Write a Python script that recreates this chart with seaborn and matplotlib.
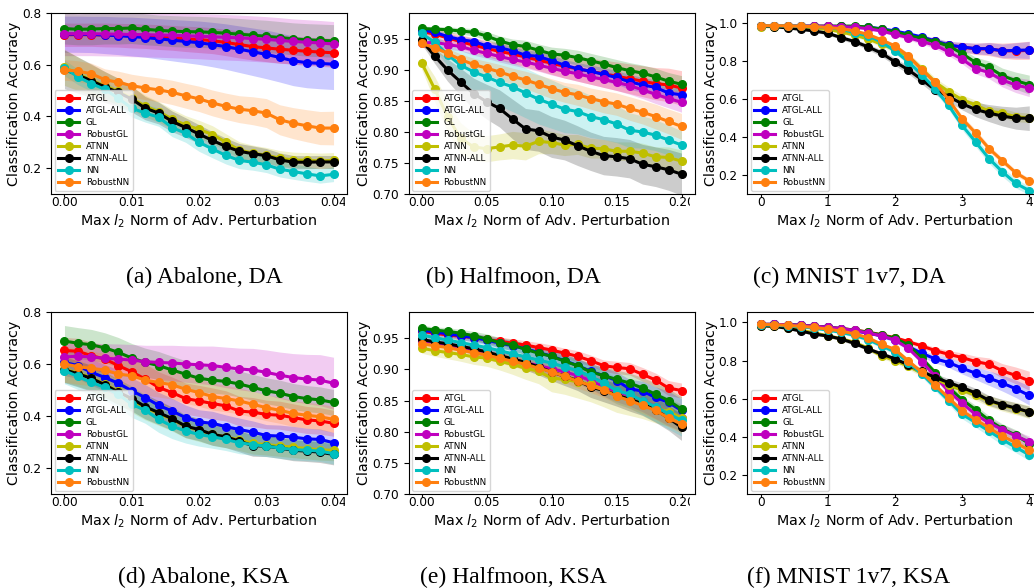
import matplotlib
matplotlib.use("Agg")
import matplotlib.pyplot as plt
import pandas as pd
import seaborn as sns
from matplotlib.transforms import Bbox, TransformedBbox

methods = ['ATGL', 'ATGL-ALL', 'GL', 'RobustGL', 'ATNN', 'ATNN-ALL', 'NN', 'RobustNN']
colors = ['r', 'b', 'g', 'm', 'y', 'k', 'c', 'C1']

eps_abalone = [0.000, 0.002, 0.004, 0.006, 0.008, 0.010, 0.012, 0.014, 0.016, 0.018, 0.020,
               0.022, 0.024, 0.026, 0.028, 0.030, 0.032, 0.034, 0.036, 0.038, 0.040]
eps_halfmoon = [0.00, 0.01, 0.02, 0.03, 0.04, 0.05, 0.06, 0.07, 0.08, 0.09, 0.10,
                0.11, 0.12, 0.13, 0.14, 0.15, 0.16, 0.17, 0.18, 0.19, 0.20]
eps_mnist = [0.0, 0.2, 0.4, 0.6, 0.8, 1.0, 1.2, 1.4, 1.6, 1.8, 2.0,
             2.2, 2.4, 2.6, 2.8, 3.0, 3.2, 3.4, 3.6, 3.8, 4.0]

# ---- (a) Abalone, DA ----
ab_da_atgl = [0.716, 0.716, 0.716, 0.715, 0.714, 0.712, 0.710, 0.707, 0.704, 0.700, 0.697, 0.693, 0.686, 0.678, 0.670, 0.665, 0.660, 0.656, 0.652, 0.649, 0.646]
ab_da_atgl_all = [0.718, 0.718, 0.717, 0.715, 0.712, 0.709, 0.705, 0.700, 0.695, 0.690, 0.685, 0.678, 0.670, 0.660, 0.650, 0.640, 0.628, 0.615, 0.608, 0.605, 0.602]
ab_da_gl = [0.740, 0.737, 0.738, 0.740, 0.740, 0.742, 0.737, 0.733, 0.730, 0.728, 0.727, 0.725, 0.722, 0.718, 0.714, 0.710, 0.705, 0.700, 0.696, 0.694, 0.692]
ab_da_robustgl = [0.720, 0.720, 0.720, 0.719, 0.718, 0.717, 0.716, 0.715, 0.714, 0.712, 0.710, 0.708, 0.706, 0.704, 0.701, 0.698, 0.694, 0.690, 0.687, 0.684, 0.680]
ab_da_atnn = [0.590, 0.565, 0.540, 0.518, 0.497, 0.470, 0.440, 0.418, 0.390, 0.367, 0.350, 0.330, 0.300, 0.270, 0.258, 0.250, 0.238, 0.232, 0.230, 0.228, 0.230]
ab_da_atnn_all = [0.582, 0.560, 0.538, 0.514, 0.493, 0.467, 0.432, 0.413, 0.381, 0.357, 0.332, 0.307, 0.284, 0.265, 0.256, 0.248, 0.232, 0.223, 0.223, 0.224, 0.224]
ab_da_nn = [0.588, 0.553, 0.527, 0.505, 0.470, 0.432, 0.413, 0.397, 0.357, 0.335, 0.300, 0.274, 0.249, 0.230, 0.223, 0.213, 0.196, 0.187, 0.178, 0.170, 0.176]
ab_da_robustnn = [0.580, 0.575, 0.565, 0.542, 0.532, 0.519, 0.510, 0.503, 0.493, 0.480, 0.468, 0.452, 0.439, 0.428, 0.422, 0.413, 0.387, 0.374, 0.364, 0.355, 0.355]
ab_da_atgl_sd = [0.045, 0.045, 0.045, 0.046, 0.046, 0.047, 0.047, 0.048, 0.048, 0.049, 0.050, 0.050, 0.051, 0.052, 0.052, 0.053, 0.054, 0.054, 0.055, 0.055, 0.056]
ab_da_atgl_all_sd = [0.070, 0.070, 0.070, 0.072, 0.073, 0.075, 0.076, 0.078, 0.080, 0.082, 0.084, 0.086, 0.088, 0.090, 0.092, 0.094, 0.095, 0.096, 0.097, 0.098, 0.098]
ab_da_gl_sd = [0.060, 0.060, 0.061, 0.060, 0.060, 0.060, 0.060, 0.059, 0.060, 0.060, 0.060, 0.060, 0.060, 0.061, 0.061, 0.062, 0.062, 0.062, 0.063, 0.063, 0.063]
ab_da_robustgl_sd = [0.085, 0.085, 0.085, 0.085, 0.085, 0.086, 0.086, 0.086, 0.087, 0.087, 0.087, 0.088, 0.088, 0.088, 0.088, 0.088, 0.088, 0.087, 0.087, 0.087, 0.087]
ab_da_atnn_sd = [0.070, 0.065, 0.060, 0.055, 0.050, 0.045, 0.042, 0.040, 0.038, 0.036, 0.035, 0.034, 0.033, 0.032, 0.031, 0.030, 0.030, 0.030, 0.030, 0.030, 0.030]
ab_da_atnn_all_sd = [0.075, 0.070, 0.065, 0.060, 0.055, 0.050, 0.045, 0.042, 0.040, 0.038, 0.036, 0.034, 0.032, 0.030, 0.030, 0.028, 0.027, 0.026, 0.025, 0.025, 0.025]
ab_da_nn_sd = [0.030, 0.030, 0.030, 0.032, 0.033, 0.034, 0.035, 0.035, 0.035, 0.035, 0.035, 0.034, 0.033, 0.032, 0.031, 0.030, 0.030, 0.030, 0.029, 0.028, 0.028]
ab_da_robustnn_sd = [0.040, 0.040, 0.041, 0.042, 0.043, 0.044, 0.045, 0.046, 0.047, 0.048, 0.049, 0.050, 0.051, 0.052, 0.054, 0.056, 0.058, 0.060, 0.062, 0.064, 0.065]

# ---- (b) Halfmoon, DA ----
hm_da_atgl = [0.962, 0.958, 0.952, 0.946, 0.940, 0.935, 0.930, 0.926, 0.921, 0.916, 0.911, 0.906, 0.902, 0.898, 0.894, 0.890, 0.886, 0.882, 0.878, 0.876, 0.871]
hm_da_atgl_all = [0.965, 0.961, 0.954, 0.949, 0.946, 0.939, 0.936, 0.931, 0.924, 0.922, 0.915, 0.908, 0.902, 0.898, 0.893, 0.888, 0.881, 0.876, 0.872, 0.863, 0.860]
hm_da_gl = [0.967, 0.966, 0.965, 0.963, 0.961, 0.955, 0.947, 0.941, 0.938, 0.932, 0.926, 0.924, 0.920, 0.915, 0.910, 0.904, 0.899, 0.895, 0.889, 0.882, 0.877]
hm_da_robustgl = [0.943, 0.945, 0.941, 0.938, 0.932, 0.927, 0.922, 0.917, 0.913, 0.908, 0.903, 0.898, 0.894, 0.889, 0.885, 0.880, 0.875, 0.868, 0.861, 0.854, 0.848]
hm_da_atnn = [0.912, 0.870, 0.825, 0.790, 0.776, 0.773, 0.776, 0.779, 0.777, 0.785, 0.783, 0.779, 0.780, 0.774, 0.773, 0.769, 0.769, 0.766, 0.760, 0.759, 0.753]
hm_da_atnn_all = [0.948, 0.923, 0.900, 0.881, 0.862, 0.849, 0.838, 0.821, 0.805, 0.802, 0.792, 0.787, 0.778, 0.769, 0.762, 0.760, 0.757, 0.748, 0.744, 0.739, 0.732]
hm_da_nn = [0.959, 0.945, 0.925, 0.908, 0.897, 0.889, 0.880, 0.873, 0.863, 0.853, 0.845, 0.837, 0.833, 0.825, 0.820, 0.813, 0.803, 0.800, 0.795, 0.787, 0.779]
hm_da_robustnn = [0.943, 0.936, 0.927, 0.917, 0.909, 0.903, 0.897, 0.890, 0.884, 0.877, 0.870, 0.864, 0.860, 0.854, 0.849, 0.845, 0.838, 0.832, 0.825, 0.817, 0.809]
hm_da_atgl_sd = [0.008, 0.009, 0.010, 0.011, 0.012, 0.013, 0.014, 0.015, 0.016, 0.017, 0.018, 0.019, 0.020, 0.021, 0.022, 0.023, 0.024, 0.025, 0.026, 0.027, 0.028]
hm_da_atgl_all_sd = [0.004, 0.004, 0.005, 0.005, 0.006, 0.006, 0.007, 0.007, 0.008, 0.008, 0.009, 0.009, 0.010, 0.010, 0.011, 0.011, 0.012, 0.012, 0.012, 0.013, 0.013]
hm_da_gl_sd = [0.004, 0.004, 0.005, 0.005, 0.006, 0.007, 0.008, 0.009, 0.010, 0.010, 0.011, 0.011, 0.012, 0.012, 0.012, 0.013, 0.013, 0.013, 0.014, 0.014, 0.014]
hm_da_robustgl_sd = [0.006, 0.006, 0.007, 0.007, 0.008, 0.008, 0.009, 0.009, 0.010, 0.010, 0.011, 0.011, 0.012, 0.012, 0.013, 0.013, 0.014, 0.014, 0.015, 0.015, 0.016]
hm_da_atnn_sd = [0.010, 0.020, 0.025, 0.025, 0.022, 0.021, 0.021, 0.022, 0.022, 0.020, 0.018, 0.017, 0.016, 0.016, 0.015, 0.015, 0.015, 0.016, 0.016, 0.017, 0.018]
hm_da_atnn_all_sd = [0.006, 0.012, 0.018, 0.022, 0.025, 0.028, 0.030, 0.032, 0.033, 0.033, 0.033, 0.032, 0.032, 0.031, 0.031, 0.031, 0.031, 0.032, 0.032, 0.033, 0.034]
hm_da_nn_sd = [0.006, 0.012, 0.018, 0.024, 0.030, 0.035, 0.038, 0.040, 0.040, 0.040, 0.039, 0.038, 0.036, 0.034, 0.032, 0.030, 0.028, 0.026, 0.025, 0.024, 0.023]
hm_da_robustnn_sd = [0.006, 0.007, 0.008, 0.009, 0.010, 0.011, 0.012, 0.013, 0.014, 0.015, 0.016, 0.016, 0.017, 0.017, 0.018, 0.018, 0.019, 0.019, 0.020, 0.020, 0.021]

# ---- (c) MNIST 1v7, DA ----
mn_da_atgl = [0.985, 0.985, 0.985, 0.985, 0.985, 0.985, 0.984, 0.982, 0.978, 0.968, 0.955, 0.940, 0.925, 0.905, 0.884, 0.875, 0.866, 0.865, 0.856, 0.855, 0.858]
mn_da_atgl_all = [0.985, 0.985, 0.985, 0.985, 0.985, 0.985, 0.984, 0.983, 0.980, 0.972, 0.960, 0.945, 0.928, 0.907, 0.886, 0.876, 0.867, 0.867, 0.855, 0.858, 0.860]
mn_da_gl = [0.985, 0.985, 0.985, 0.985, 0.985, 0.985, 0.986, 0.986, 0.981, 0.969, 0.956, 0.937, 0.921, 0.904, 0.881, 0.841, 0.794, 0.768, 0.724, 0.698, 0.677]
mn_da_robustgl = [0.985, 0.985, 0.985, 0.985, 0.985, 0.984, 0.983, 0.980, 0.972, 0.960, 0.942, 0.925, 0.904, 0.885, 0.850, 0.811, 0.762, 0.741, 0.701, 0.675, 0.659]
mn_da_atnn = [0.983, 0.983, 0.982, 0.980, 0.976, 0.968, 0.955, 0.938, 0.918, 0.890, 0.862, 0.825, 0.760, 0.690, 0.640, 0.597, 0.570, 0.537, 0.527, 0.507, 0.502]
mn_da_atnn_all = [0.985, 0.983, 0.976, 0.969, 0.960, 0.948, 0.925, 0.904, 0.876, 0.843, 0.797, 0.755, 0.703, 0.649, 0.614, 0.576, 0.546, 0.527, 0.511, 0.500, 0.500]
mn_da_nn = [0.987, 0.987, 0.986, 0.985, 0.982, 0.977, 0.969, 0.951, 0.934, 0.902, 0.855, 0.797, 0.729, 0.654, 0.567, 0.462, 0.375, 0.287, 0.217, 0.156, 0.118]
mn_da_robustnn = [0.988, 0.988, 0.987, 0.985, 0.983, 0.978, 0.972, 0.960, 0.942, 0.913, 0.881, 0.829, 0.755, 0.689, 0.597, 0.497, 0.422, 0.340, 0.275, 0.212, 0.169]
mn_da_atgl_sd = [0.003, 0.003, 0.003, 0.003, 0.003, 0.003, 0.003, 0.004, 0.005, 0.006, 0.008, 0.010, 0.012, 0.015, 0.020, 0.025, 0.030, 0.035, 0.040, 0.045, 0.048]
mn_da_atgl_all_sd = [0.003, 0.003, 0.003, 0.003, 0.003, 0.003, 0.003, 0.004, 0.005, 0.006, 0.008, 0.010, 0.013, 0.016, 0.020, 0.024, 0.028, 0.032, 0.036, 0.040, 0.045]
mn_da_gl_sd = [0.003, 0.003, 0.003, 0.003, 0.003, 0.003, 0.003, 0.004, 0.005, 0.007, 0.009, 0.011, 0.013, 0.015, 0.018, 0.022, 0.028, 0.034, 0.040, 0.045, 0.050]
mn_da_robustgl_sd = [0.003, 0.003, 0.003, 0.003, 0.003, 0.003, 0.004, 0.005, 0.006, 0.008, 0.010, 0.012, 0.014, 0.017, 0.020, 0.024, 0.028, 0.032, 0.036, 0.040, 0.045]
mn_da_atnn_sd = [0.004, 0.004, 0.004, 0.005, 0.006, 0.007, 0.008, 0.010, 0.012, 0.014, 0.016, 0.018, 0.020, 0.022, 0.024, 0.025, 0.025, 0.025, 0.025, 0.025, 0.025]
mn_da_atnn_all_sd = [0.004, 0.004, 0.005, 0.006, 0.007, 0.009, 0.011, 0.013, 0.015, 0.017, 0.019, 0.021, 0.023, 0.025, 0.028, 0.032, 0.038, 0.045, 0.052, 0.058, 0.065]
mn_da_nn_sd = [0.003, 0.003, 0.003, 0.003, 0.004, 0.005, 0.006, 0.007, 0.009, 0.011, 0.013, 0.015, 0.017, 0.019, 0.021, 0.023, 0.024, 0.025, 0.025, 0.024, 0.023]
mn_da_robustnn_sd = [0.003, 0.003, 0.003, 0.003, 0.003, 0.004, 0.005, 0.006, 0.008, 0.010, 0.012, 0.014, 0.016, 0.017, 0.018, 0.018, 0.018, 0.017, 0.016, 0.015, 0.014]

# ---- (d) Abalone, KSA ----
ab_ksa_atgl = [0.652, 0.649, 0.632, 0.619, 0.594, 0.570, 0.542, 0.510, 0.490, 0.467, 0.458, 0.448, 0.439, 0.419, 0.415, 0.406, 0.403, 0.394, 0.385, 0.381, 0.372]
ab_ksa_atgl_all = [0.606, 0.594, 0.568, 0.548, 0.526, 0.497, 0.471, 0.441, 0.419, 0.394, 0.377, 0.372, 0.359, 0.348, 0.338, 0.325, 0.323, 0.319, 0.312, 0.310, 0.297]
ab_ksa_gl = [0.688, 0.680, 0.674, 0.662, 0.645, 0.623, 0.606, 0.594, 0.577, 0.561, 0.545, 0.538, 0.533, 0.523, 0.510, 0.497, 0.488, 0.475, 0.467, 0.462, 0.452]
ab_ksa_robustgl = [0.627, 0.630, 0.627, 0.622, 0.619, 0.615, 0.609, 0.606, 0.604, 0.600, 0.597, 0.594, 0.587, 0.581, 0.577, 0.568, 0.557, 0.548, 0.542, 0.538, 0.526]
ab_ksa_atnn = [0.580, 0.565, 0.548, 0.522, 0.495, 0.462, 0.432, 0.410, 0.387, 0.360, 0.345, 0.330, 0.320, 0.308, 0.295, 0.290, 0.285, 0.280, 0.275, 0.270, 0.268]
ab_ksa_atnn_all = [0.578, 0.562, 0.545, 0.520, 0.492, 0.467, 0.436, 0.413, 0.390, 0.361, 0.348, 0.329, 0.320, 0.303, 0.286, 0.284, 0.277, 0.268, 0.265, 0.261, 0.252]
ab_ksa_nn = [0.574, 0.552, 0.529, 0.510, 0.484, 0.445, 0.422, 0.387, 0.361, 0.342, 0.329, 0.320, 0.310, 0.297, 0.290, 0.284, 0.277, 0.271, 0.268, 0.265, 0.255]
ab_ksa_robustnn = [0.600, 0.590, 0.583, 0.577, 0.561, 0.555, 0.538, 0.529, 0.520, 0.503, 0.490, 0.475, 0.467, 0.458, 0.445, 0.432, 0.422, 0.410, 0.403, 0.397, 0.387]
ab_ksa_atgl_sd = [0.050, 0.050, 0.052, 0.053, 0.055, 0.056, 0.058, 0.060, 0.060, 0.060, 0.060, 0.060, 0.058, 0.057, 0.056, 0.055, 0.054, 0.053, 0.052, 0.051, 0.050]
ab_ksa_atgl_all_sd = [0.050, 0.050, 0.050, 0.051, 0.051, 0.050, 0.050, 0.050, 0.049, 0.048, 0.047, 0.046, 0.045, 0.044, 0.043, 0.042, 0.042, 0.041, 0.041, 0.040, 0.040]
ab_ksa_gl_sd = [0.060, 0.060, 0.059, 0.058, 0.057, 0.056, 0.055, 0.054, 0.053, 0.052, 0.051, 0.050, 0.050, 0.050, 0.050, 0.050, 0.050, 0.050, 0.050, 0.050, 0.050]
ab_ksa_robustgl_sd = [0.050, 0.052, 0.054, 0.056, 0.058, 0.060, 0.063, 0.066, 0.068, 0.070, 0.072, 0.075, 0.078, 0.080, 0.083, 0.086, 0.089, 0.092, 0.095, 0.098, 0.100]
ab_ksa_atnn_sd = [0.050, 0.050, 0.050, 0.050, 0.049, 0.048, 0.047, 0.046, 0.045, 0.044, 0.043, 0.042, 0.042, 0.041, 0.041, 0.040, 0.040, 0.040, 0.040, 0.040, 0.040]
ab_ksa_atnn_all_sd = [0.050, 0.050, 0.050, 0.049, 0.049, 0.048, 0.047, 0.046, 0.045, 0.044, 0.043, 0.042, 0.042, 0.041, 0.041, 0.040, 0.040, 0.040, 0.040, 0.040, 0.040]
ab_ksa_nn_sd = [0.050, 0.050, 0.050, 0.050, 0.050, 0.050, 0.050, 0.050, 0.048, 0.046, 0.045, 0.044, 0.043, 0.042, 0.041, 0.040, 0.040, 0.040, 0.040, 0.040, 0.040]
ab_ksa_robustnn_sd = [0.070, 0.068, 0.066, 0.064, 0.062, 0.060, 0.058, 0.056, 0.055, 0.054, 0.053, 0.052, 0.051, 0.050, 0.050, 0.050, 0.050, 0.050, 0.050, 0.050, 0.050]

# ---- (e) Halfmoon, KSA ----
hm_ksa_atgl = [0.961, 0.958, 0.955, 0.953, 0.951, 0.948, 0.945, 0.942, 0.939, 0.935, 0.931, 0.926, 0.921, 0.914, 0.906, 0.903, 0.901, 0.892, 0.883, 0.870, 0.866]
hm_ksa_atgl_all = [0.963, 0.960, 0.957, 0.954, 0.951, 0.947, 0.942, 0.938, 0.933, 0.927, 0.921, 0.914, 0.906, 0.897, 0.890, 0.882, 0.869, 0.865, 0.855, 0.847, 0.834]
hm_ksa_gl = [0.966, 0.963, 0.961, 0.958, 0.954, 0.949, 0.943, 0.939, 0.932, 0.926, 0.921, 0.913, 0.906, 0.896, 0.890, 0.884, 0.878, 0.870, 0.860, 0.850, 0.836]
hm_ksa_robustgl = [0.946, 0.943, 0.939, 0.935, 0.931, 0.926, 0.921, 0.916, 0.911, 0.906, 0.901, 0.896, 0.890, 0.882, 0.872, 0.864, 0.858, 0.850, 0.840, 0.830, 0.822]
hm_ksa_atnn = [0.934, 0.930, 0.927, 0.924, 0.920, 0.918, 0.913, 0.908, 0.902, 0.897, 0.886, 0.884, 0.880, 0.876, 0.868, 0.858, 0.852, 0.846, 0.838, 0.832, 0.822]
hm_ksa_atnn_all = [0.948, 0.944, 0.941, 0.937, 0.933, 0.928, 0.922, 0.917, 0.911, 0.904, 0.896, 0.889, 0.882, 0.872, 0.866, 0.859, 0.852, 0.845, 0.835, 0.822, 0.807]
hm_ksa_nn = [0.955, 0.951, 0.947, 0.943, 0.939, 0.935, 0.930, 0.925, 0.920, 0.915, 0.910, 0.904, 0.898, 0.889, 0.878, 0.866, 0.860, 0.850, 0.840, 0.829, 0.818]
hm_ksa_robustnn = [0.941, 0.938, 0.935, 0.931, 0.927, 0.923, 0.918, 0.913, 0.908, 0.902, 0.896, 0.889, 0.881, 0.874, 0.867, 0.857, 0.850, 0.842, 0.834, 0.822, 0.812]
hm_ksa_atgl_sd = [0.005, 0.005, 0.005, 0.006, 0.006, 0.006, 0.007, 0.007, 0.007, 0.008, 0.008, 0.008, 0.009, 0.009, 0.009, 0.010, 0.010, 0.011, 0.011, 0.012, 0.012]
hm_ksa_atgl_all_sd = [0.005, 0.005, 0.006, 0.006, 0.007, 0.007, 0.008, 0.008, 0.009, 0.009, 0.010, 0.010, 0.011, 0.012, 0.013, 0.014, 0.015, 0.016, 0.017, 0.018, 0.019]
hm_ksa_gl_sd = [0.005, 0.005, 0.006, 0.006, 0.007, 0.008, 0.008, 0.009, 0.009, 0.010, 0.011, 0.011, 0.012, 0.013, 0.014, 0.015, 0.016, 0.017, 0.018, 0.019, 0.020]
hm_ksa_robustgl_sd = [0.005, 0.005, 0.006, 0.006, 0.007, 0.007, 0.008, 0.009, 0.009, 0.010, 0.011, 0.012, 0.013, 0.014, 0.015, 0.016, 0.017, 0.018, 0.019, 0.020, 0.021]
hm_ksa_atnn_sd = [0.008, 0.009, 0.010, 0.011, 0.012, 0.013, 0.014, 0.016, 0.018, 0.020, 0.022, 0.024, 0.026, 0.028, 0.028, 0.027, 0.026, 0.025, 0.024, 0.023, 0.022]
hm_ksa_atnn_all_sd = [0.006, 0.006, 0.007, 0.008, 0.008, 0.009, 0.010, 0.011, 0.012, 0.013, 0.014, 0.015, 0.016, 0.017, 0.018, 0.018, 0.019, 0.019, 0.020, 0.020, 0.021]
hm_ksa_nn_sd = [0.006, 0.007, 0.008, 0.009, 0.010, 0.011, 0.012, 0.013, 0.014, 0.015, 0.016, 0.017, 0.018, 0.019, 0.020, 0.021, 0.022, 0.023, 0.024, 0.025, 0.025]
hm_ksa_robustnn_sd = [0.005, 0.005, 0.006, 0.006, 0.007, 0.007, 0.008, 0.008, 0.009, 0.009, 0.010, 0.010, 0.011, 0.011, 0.012, 0.012, 0.013, 0.013, 0.014, 0.014, 0.015]

# ---- (f) MNIST 1v7, KSA ----
mn_ksa_atgl = [0.990, 0.990, 0.988, 0.985, 0.980, 0.975, 0.968, 0.960, 0.950, 0.935, 0.920, 0.899, 0.877, 0.852, 0.833, 0.816, 0.795, 0.781, 0.746, 0.722, 0.694]
mn_ksa_atgl_all = [0.990, 0.990, 0.988, 0.985, 0.980, 0.975, 0.966, 0.955, 0.945, 0.930, 0.908, 0.873, 0.838, 0.809, 0.790, 0.760, 0.734, 0.708, 0.682, 0.652, 0.617]
mn_ksa_gl = [0.990, 0.990, 0.988, 0.985, 0.980, 0.975, 0.968, 0.960, 0.948, 0.935, 0.917, 0.882, 0.812, 0.737, 0.659, 0.595, 0.543, 0.487, 0.442, 0.409, 0.364]
mn_ksa_robustgl = [0.990, 0.990, 0.988, 0.985, 0.980, 0.975, 0.968, 0.958, 0.945, 0.930, 0.908, 0.864, 0.795, 0.717, 0.638, 0.577, 0.517, 0.473, 0.438, 0.404, 0.374]
mn_ksa_atnn = [0.983, 0.980, 0.972, 0.960, 0.945, 0.930, 0.915, 0.895, 0.865, 0.825, 0.800, 0.770, 0.735, 0.705, 0.672, 0.645, 0.618, 0.588, 0.565, 0.548, 0.530]
mn_ksa_atnn_all = [0.983, 0.980, 0.969, 0.955, 0.939, 0.929, 0.913, 0.890, 0.861, 0.835, 0.809, 0.777, 0.743, 0.711, 0.685, 0.659, 0.630, 0.591, 0.569, 0.551, 0.530]
mn_ksa_nn = [0.988, 0.985, 0.982, 0.977, 0.970, 0.960, 0.948, 0.932, 0.910, 0.878, 0.845, 0.790, 0.730, 0.660, 0.590, 0.518, 0.475, 0.430, 0.385, 0.345, 0.305]
mn_ksa_robustnn = [0.990, 0.988, 0.985, 0.980, 0.974, 0.965, 0.955, 0.940, 0.920, 0.885, 0.859, 0.798, 0.739, 0.670, 0.604, 0.537, 0.490, 0.447, 0.404, 0.369, 0.329]
mn_ksa_atgl_sd = [0.003, 0.003, 0.003, 0.003, 0.003, 0.004, 0.005, 0.006, 0.007, 0.008, 0.010, 0.012, 0.014, 0.017, 0.020, 0.024, 0.028, 0.033, 0.038, 0.044, 0.050]
mn_ksa_atgl_all_sd = [0.003, 0.003, 0.003, 0.003, 0.003, 0.004, 0.005, 0.006, 0.007, 0.009, 0.012, 0.015, 0.018, 0.022, 0.026, 0.030, 0.034, 0.038, 0.042, 0.046, 0.050]
mn_ksa_gl_sd = [0.003, 0.003, 0.003, 0.003, 0.003, 0.004, 0.005, 0.006, 0.007, 0.008, 0.010, 0.012, 0.014, 0.016, 0.018, 0.020, 0.022, 0.024, 0.026, 0.028, 0.030]
mn_ksa_robustgl_sd = [0.003, 0.003, 0.003, 0.003, 0.003, 0.004, 0.005, 0.006, 0.007, 0.008, 0.010, 0.012, 0.014, 0.016, 0.018, 0.020, 0.022, 0.024, 0.026, 0.028, 0.030]
mn_ksa_atnn_sd = [0.005, 0.005, 0.006, 0.007, 0.008, 0.009, 0.010, 0.011, 0.012, 0.013, 0.014, 0.016, 0.018, 0.020, 0.022, 0.024, 0.026, 0.028, 0.030, 0.032, 0.034]
mn_ksa_atnn_all_sd = [0.004, 0.004, 0.005, 0.006, 0.007, 0.008, 0.009, 0.010, 0.011, 0.012, 0.013, 0.015, 0.017, 0.019, 0.021, 0.023, 0.025, 0.026, 0.027, 0.028, 0.030]
mn_ksa_nn_sd = [0.004, 0.004, 0.005, 0.006, 0.007, 0.008, 0.009, 0.010, 0.011, 0.012, 0.013, 0.015, 0.017, 0.019, 0.021, 0.023, 0.025, 0.026, 0.027, 0.028, 0.030]
mn_ksa_robustnn_sd = [0.003, 0.003, 0.003, 0.004, 0.004, 0.005, 0.006, 0.007, 0.008, 0.009, 0.010, 0.011, 0.012, 0.013, 0.014, 0.015, 0.016, 0.017, 0.018, 0.019, 0.020]

captions = ['(a) Abalone, DA', '(b) Halfmoon, DA', '(c) MNIST 1v7, DA',
            '(d) Abalone, KSA', '(e) Halfmoon, KSA', '(f) MNIST 1v7, KSA']

panels = [
    (eps_abalone,
     [ab_da_atgl, ab_da_atgl_all, ab_da_gl, ab_da_robustgl, ab_da_atnn, ab_da_atnn_all, ab_da_nn, ab_da_robustnn],
     [ab_da_atgl_sd, ab_da_atgl_all_sd, ab_da_gl_sd, ab_da_robustgl_sd, ab_da_atnn_sd, ab_da_atnn_all_sd, ab_da_nn_sd, ab_da_robustnn_sd]),
    (eps_halfmoon,
     [hm_da_atgl, hm_da_atgl_all, hm_da_gl, hm_da_robustgl, hm_da_atnn, hm_da_atnn_all, hm_da_nn, hm_da_robustnn],
     [hm_da_atgl_sd, hm_da_atgl_all_sd, hm_da_gl_sd, hm_da_robustgl_sd, hm_da_atnn_sd, hm_da_atnn_all_sd, hm_da_nn_sd, hm_da_robustnn_sd]),
    (eps_mnist,
     [mn_da_atgl, mn_da_atgl_all, mn_da_gl, mn_da_robustgl, mn_da_atnn, mn_da_atnn_all, mn_da_nn, mn_da_robustnn],
     [mn_da_atgl_sd, mn_da_atgl_all_sd, mn_da_gl_sd, mn_da_robustgl_sd, mn_da_atnn_sd, mn_da_atnn_all_sd, mn_da_nn_sd, mn_da_robustnn_sd]),
    (eps_abalone,
     [ab_ksa_atgl, ab_ksa_atgl_all, ab_ksa_gl, ab_ksa_robustgl, ab_ksa_atnn, ab_ksa_atnn_all, ab_ksa_nn, ab_ksa_robustnn],
     [ab_ksa_atgl_sd, ab_ksa_atgl_all_sd, ab_ksa_gl_sd, ab_ksa_robustgl_sd, ab_ksa_atnn_sd, ab_ksa_atnn_all_sd, ab_ksa_nn_sd, ab_ksa_robustnn_sd]),
    (eps_halfmoon,
     [hm_ksa_atgl, hm_ksa_atgl_all, hm_ksa_gl, hm_ksa_robustgl, hm_ksa_atnn, hm_ksa_atnn_all, hm_ksa_nn, hm_ksa_robustnn],
     [hm_ksa_atgl_sd, hm_ksa_atgl_all_sd, hm_ksa_gl_sd, hm_ksa_robustgl_sd, hm_ksa_atnn_sd, hm_ksa_atnn_all_sd, hm_ksa_nn_sd, hm_ksa_robustnn_sd]),
    (eps_mnist,
     [mn_ksa_atgl, mn_ksa_atgl_all, mn_ksa_gl, mn_ksa_robustgl, mn_ksa_atnn, mn_ksa_atnn_all, mn_ksa_nn, mn_ksa_robustnn],
     [mn_ksa_atgl_sd, mn_ksa_atgl_all_sd, mn_ksa_gl_sd, mn_ksa_robustgl_sd, mn_ksa_atnn_sd, mn_ksa_atnn_all_sd, mn_ksa_nn_sd, mn_ksa_robustnn_sd]),
]

plt.rcParams['xtick.labelsize'] = 8.7
plt.rcParams['ytick.labelsize'] = 8.7
plt.rcParams['axes.labelsize'] = 10.3

W, H = 1034, 588
fig = plt.figure(figsize=(W / 100, H / 100), dpi=100)

# axes boxes in pixels: left, right, top, bottom
col_px = [(51, 347), (408.5, 694.5), (747.3, 1042.7)]
row_px = [(13, 194), (312, 494)]
col_edges = [345, 690, W]
caption_x = [204, 513, 849]
caption_y = [277, 577]

ylims = [(0.1, 0.8), (0.70, 0.992), (0.1, 1.055)]
yticks = [[0.2, 0.4, 0.6, 0.8], [0.70, 0.75, 0.80, 0.85, 0.90, 0.95], [0.2, 0.4, 0.6, 0.8, 1.0]]
xticks = [[0.00, 0.01, 0.02, 0.03, 0.04], [0.00, 0.05, 0.10, 0.15, 0.20], [0, 1, 2, 3, 4]]
xfmt = ['{:.2f}', '{:.2f}', '{:.0f}']
yfmt = ['{:.1f}', '{:.2f}', '{:.1f}']


def band_for(x, mean, sd):
    # two rows per x: lower and upper edge, so the interval is mean +/- sd
    xs, ys = [], []
    for xi, mi, si in zip(x, mean, sd):
        xs += [xi, xi]
        ys += [mi - si, mi + si]
    return pd.DataFrame({'eps': xs, 'acc': ys})


for k, (x, means, sds) in enumerate(panels):
    r, c = divmod(k, 3)
    l, rr = col_px[c]
    t, b = row_px[r]
    ax = fig.add_axes([l / W, 1 - b / H, (rr - l) / W, (b - t) / H])

    for name, col, mean, sd in zip(methods, colors, means, sds):
        df = band_for(x, mean, sd)
        sns.lineplot(data=df, x='eps', y='acc', ax=ax, color=col, label=name,
                     estimator='mean', errorbar=lambda v: (v.min(), v.max()),
                     err_kws={'alpha': 0.2, 'linewidth': 0},
                     marker='o', markersize=5.5, markeredgecolor=col,
                     markeredgewidth=1.0, linewidth=2.2)

    ax.set_xticks(xticks[c])
    ax.set_xticklabels([xfmt[c].format(v) for v in xticks[c]])
    ax.set_yticks(yticks[c])
    ax.set_yticklabels([yfmt[c].format(v) for v in yticks[c]])
    ax.set_ylim(*ylims[c])
    ax.tick_params(axis='x', length=2.2, pad=-0.9)
    ax.set_xlabel('Max $l_2$ Norm of Adv. Perturbation', labelpad=3)
    ax.set_ylabel('Classification Accuracy', labelpad=0.5)

    ax.legend(handles=ax.get_lines()[:len(methods)], labels=methods,
              loc='lower left', fontsize=6.3, labelspacing=0.35,
              borderaxespad=0.4, handlelength=2.4)

    # the neighbouring panel covers anything spilling over the right border
    clip = TransformedBbox(Bbox.from_extents(0, 0, col_edges[c] / W, 1), fig.transFigure)
    for lbl in ax.get_xticklabels():
        lbl.set_clip_box(clip)
        lbl.set_clip_on(True)

    fig.text(caption_x[c] / W, 1 - caption_y[r] / H, captions[k],
             ha='center', va='center', fontsize=17, family='Liberation Serif')

fig.savefig('out.png', dpi=100)
